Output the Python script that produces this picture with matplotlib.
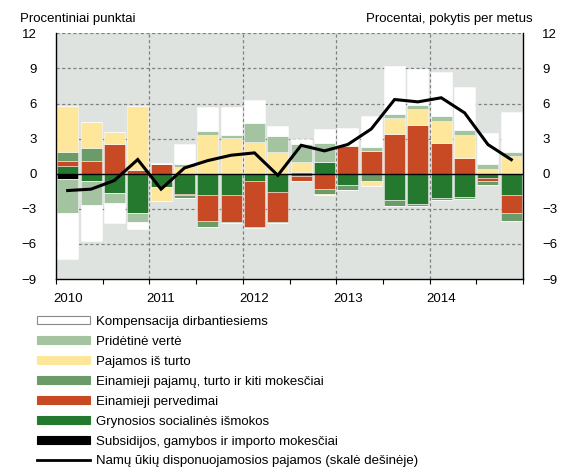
import numpy as np
import matplotlib
matplotlib.use("Agg")
import matplotlib.pyplot as plt
from matplotlib.patches import Patch
from matplotlib.lines import Line2D

plt.rcParams['font.family'] = ['Liberation Sans', 'DejaVu Sans']

years = ["2010", "2011", "2012", "2013", "2014"]

# Components (quarterly contributions, percentage points), 2010Q1..2014Q4
subsidies = [-0.46, 0, -0.05, 0, 0, 0, 0, 0, 0, 0,
             0, 0, 0, 0, 0, 0, 0, 0, 0, 0]
social = [0.69, -0.66, -1.60, -3.38, -1.17, -1.73, -1.81, -1.81, -0.66, -1.60,
          -0.20, 0.98, -0.95, 0, -2.29, -2.63, -2.06, -2.00, -0.34, -1.86]
transfers = [0.43, 1.09, 2.50, 0.35, 0.83, -0.09, -2.22, -2.36, -3.91, -2.55,
             -0.45, -1.33, 2.35, 1.90, 3.43, 4.20, 2.66, 1.37, -0.31, -1.51]
taxes = [0.72, 1.12, 0, 0, 0, -0.29, -0.52, -0.08, -0.10, -0.08,
         0.15, -0.37, -0.45, -0.60, -0.51, -0.09, -0.23, -0.20, -0.34, -0.63]
property_inc = [3.91, 2.22, 1.06, 5.41, -1.15, 0.58, 3.31, 3.02, 2.73, 1.84,
                0.83, -0.11, 0.12, -0.49, 1.34, 1.31, 1.83, 1.91, 0.43, 1.49]
value_added = [-2.88, -2.02, -0.87, -0.78, 0, 0.29, 0.35, 0.29, 1.64, 1.38,
               1.55, 1.67, 0, 0.36, 0.31, 0.34, 0.43, 0.43, 0.37, 0.37]
compensation = [-3.97, -3.05, -1.70, -0.55, 0.10, 1.70, 2.01, 2.42, 1.96, 0.86,
                0.45, 1.20, 1.47, 2.65, 4.11, 3.14, 3.80, 3.71, 2.69, 3.40]

# Disposable income, annual change (%)
disposable = [-1.44, -1.32, -0.58, 1.21, -1.32, 0.49, 1.12, 1.58, 1.78, -0.14,
              2.43, 1.95, 2.50, 3.82, 6.34, 6.14, 6.49, 5.20, 2.49, 1.20]

labels = ["Kompensacija dirbantiesiems", "Pridėtinė vertė", "Pajamos iš turto",
          "Einamieji pajamų, turto ir kiti mokesčiai", "Einamieji pervedimai",
          "Grynosios socialinės išmokos", "Subsidijos, gamybos ir importo mokesčiai"]
line_label = "Namų ūkių disponuojamosios pajamos (skalė dešinėje)"

# stacking order from zero outward
series = [subsidies, social, transfers, taxes, property_inc, value_added, compensation]
colors = ["#000000", "#25792f", "#c84a25", "#6b9b69", "#fee69a", "#a3c3a1", "#ffffff"]

fig = plt.figure(figsize=(5.61, 4.70), dpi=100)
ax = fig.add_axes([56/561, 1-279/470, (523-56)/561, (279-33.3)/470])
bg = "#dfe3df"
ax.set_facecolor(bg)

n = len(disposable)
x = np.arange(n) + 0.5
pos_base = np.zeros(n)
neg_base = np.zeros(n)
for vals, c in zip(series, colors):
    v = np.array(vals, dtype=float)
    p = np.where(v > 0, v, 0)
    q = np.where(v < 0, v, 0)
    ax.bar(x, p, 0.9, bottom=pos_base, color=c, edgecolor=(1, 1, 1, 0.45),
           linewidth=0.7, zorder=2)
    ax.bar(x, q, 0.9, bottom=neg_base, color=c, edgecolor=(1, 1, 1, 0.45),
           linewidth=0.7, zorder=2)
    pos_base += p
    neg_base += q

ax.set_xlim(0, n)
ax.set_ylim(-9, 12)
ax.axhline(0, color="black", lw=1.0, zorder=3)

grid_kw = dict(color="#808080", lw=0.9, ls=(0, (2.5, 2)), zorder=1)
for yv in [-6, -3, 3, 6, 9, 12]:
    ax.axhline(yv, **grid_kw)
for xv in [4, 8, 12, 16]:
    ax.axvline(xv, **grid_kw)

ax.spines['top'].set_visible(False)
for s in ['left', 'right', 'bottom']:
    ax.spines[s].set_color("black")
    ax.spines[s].set_linewidth(1.0)

ax.set_xticks(np.arange(0, n + 1, 2))
ax.set_xticklabels([])
ax.tick_params(axis='x', direction='out', length=3.5, width=0.8, color="black")
ax.set_xticks(np.arange(0, n, 4) + 0.5, minor=True)
ax.set_xticklabels(years, minor=True)
ax.tick_params(axis='x', which='minor', length=0, pad=10, labelsize=9.5)

yt = [-9, -6, -3, 0, 3, 6, 9, 12]
ax.set_yticks(yt)
ax.set_yticklabels([str(v).replace("-", "\u2212") for v in yt])
ax.tick_params(axis='y', length=0, pad=14, labelsize=9.5)

ax2 = ax.twinx()
ax2.set_ylim(-9, 12)
ax2.set_yticks(yt)
ax2.set_yticklabels([str(v).replace("-", "\u2212") for v in yt])
ax2.tick_params(axis='y', length=0, pad=14, labelsize=9.5)
for s in ['top', 'left', 'bottom', 'right']:
    ax2.spines[s].set_visible(False)
ax2.plot(x, disposable, color="black", lw=2.2, zorder=4, solid_joinstyle='miter')

fig.text(20/561, 1-19/470, "Procentiniai punktai", fontsize=9.5, va="center", ha="left")
fig.text(533/561, 1-19/470, "Procentai, pokytis per metus", fontsize=9.5, va="center", ha="right")

handles = []
for lab, c in zip(labels, colors[::-1]):
    ec = "#8a8a8a" if c == "#ffffff" else c
    handles.append(Patch(facecolor=c, edgecolor=ec, linewidth=0.8))
handles.append(Line2D([0], [0], color="black", lw=2.0))
fig.legend(handles, labels + [line_label], loc="upper left",
           bbox_to_anchor=(37/561, 1-316/470), frameon=False, fontsize=9.5,
           handlelength=4.0, handleheight=0.55, handletextpad=0.45,
           labelspacing=0.6, borderpad=0, borderaxespad=0)

fig.savefig("out.png", dpi=100)
